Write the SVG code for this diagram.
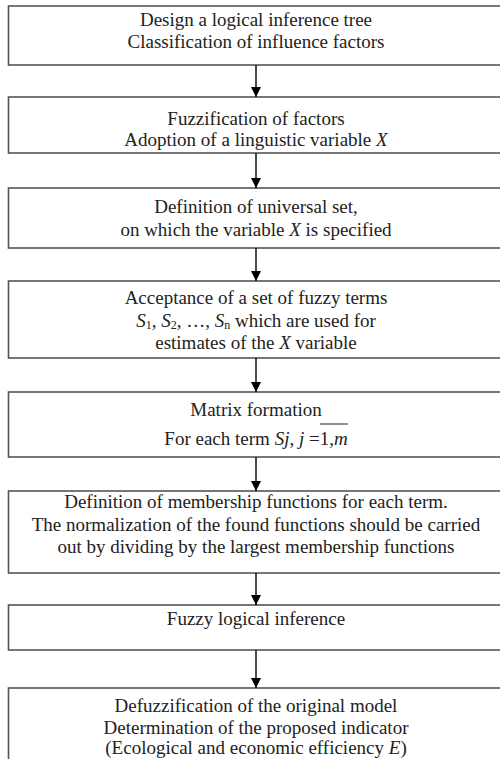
<svg xmlns="http://www.w3.org/2000/svg" width="500" height="759" viewBox="0 0 500 759">
<defs>
<style>
.box{fill:#fff;stroke:#555;stroke-width:1.6}
.t{font-family:"Liberation Serif","Times New Roman",serif;font-size:19px;fill:#222;text-anchor:middle}
.i{font-style:italic}
.sub{font-size:12px}
.conn{stroke:#000;stroke-width:1.4;fill:none}
</style>
<marker id="ah" markerWidth="10" markerHeight="10" refX="10" refY="5" orient="auto" markerUnits="userSpaceOnUse">
<path d="M0,0 L10,5 L0,10 Z" fill="#000"/>
</marker>
</defs>
<rect width="500" height="759" fill="#fff"/>
<g id="n1"><rect class="box" x="8.5" y="6" width="495" height="59"/>
<text class="t" x="256" y="26">Design a logical inference tree</text>
<text class="t" x="256" y="48">Classification of influence factors</text></g>
<g id="n2"><rect class="box" x="8.5" y="97" width="495" height="56"/>
<text class="t" x="256" y="125">Fuzzification of factors</text>
<text class="t" x="256" y="146">Adoption of a linguistic variable <tspan class="i">X</tspan></text></g>
<g id="n3"><rect class="box" x="8.5" y="188" width="495" height="60"/>
<text class="t" x="256" y="213">Definition of universal set,</text>
<text class="t" x="256" y="236">on which the variable <tspan class="i">X</tspan> is specified</text></g>
<g id="n4"><rect class="box" x="8.5" y="281" width="495" height="77"/>
<text class="t" x="256" y="304">Acceptance of a set of fuzzy terms</text>
<text class="t" x="256" y="327"><tspan class="i">S</tspan><tspan class="sub" dy="2">1</tspan><tspan dy="-2">, </tspan><tspan class="i">S</tspan><tspan class="sub" dy="2">2</tspan><tspan dy="-2">, …, </tspan><tspan class="i">S</tspan><tspan class="sub" dy="2">n</tspan><tspan dy="-2"> which are used for</tspan></text>
<text class="t" x="256" y="349">estimates of the <tspan class="i">X</tspan> variable</text></g>
<g id="n5"><rect class="box" x="8.5" y="392" width="495" height="65"/>
<text class="t" x="256" y="416">Matrix formation</text>
<text class="t" x="256" y="445">For each term <tspan class="i">Sj</tspan>, <tspan class="i">j</tspan> =1,<tspan class="i">m</tspan></text>
<line x1="320" y1="424" x2="348" y2="424" stroke="#222" stroke-width="1"/></g>
<g id="n6"><rect class="box" x="8.5" y="491" width="495" height="82"/>
<text class="t" x="256" y="508">Definition of membership functions for each term.</text>
<text class="t" x="256" y="531">The normalization of the found functions should be carried</text>
<text class="t" x="256" y="553">out by dividing by the largest membership functions</text></g>
<g id="n7"><rect class="box" x="8.5" y="605" width="495" height="45"/>
<text class="t" x="256" y="625">Fuzzy logical inference</text></g>
<g id="n8"><rect class="box" x="8.5" y="688" width="495" height="90"/>
<text class="t" x="256" y="712">Defuzzification of the original model</text>
<text class="t" x="256" y="734">Determination of the proposed indicator</text>
<text class="t" x="256" y="754">(Ecological and economic efficiency <tspan class="i">E</tspan>)</text></g>
<g id="connectors">
<line class="conn" x1="256" y1="65" x2="256" y2="97" marker-end="url(#ah)"/>
<line class="conn" x1="256" y1="153" x2="256" y2="188" marker-end="url(#ah)"/>
<line class="conn" x1="256" y1="248" x2="256" y2="281" marker-end="url(#ah)"/>
<line class="conn" x1="256" y1="358" x2="256" y2="392" marker-end="url(#ah)"/>
<line class="conn" x1="256" y1="457" x2="256" y2="491" marker-end="url(#ah)"/>
<line class="conn" x1="256" y1="573" x2="256" y2="605" marker-end="url(#ah)"/>
<line class="conn" x1="256" y1="650" x2="256" y2="688" marker-end="url(#ah)"/>
</g>
</svg>
